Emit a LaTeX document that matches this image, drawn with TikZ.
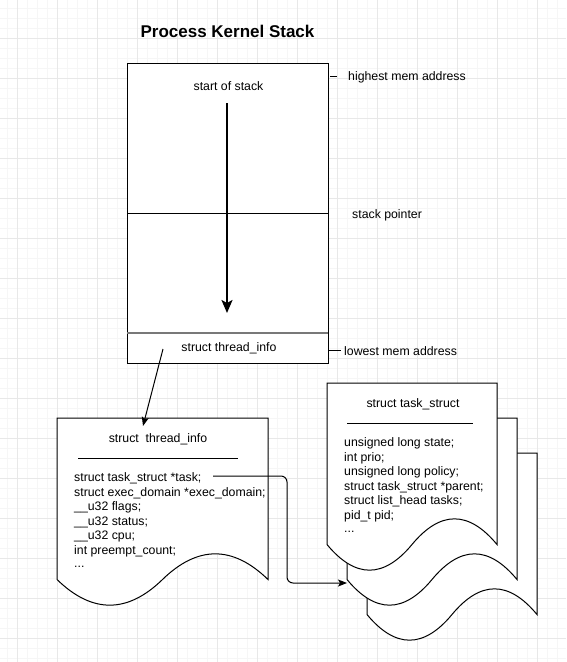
\documentclass[tikz,border=0pt]{standalone}
\usepackage{fontspec}
\setmainfont{Liberation Sans}
\usetikzlibrary{arrows.meta}
\tikzset{
  lbl/.style={inner sep=0pt, font=\fontsize{12.3}{14}\selectfont, yshift=-2pt},
  codeline/.style={lbl, anchor=mid west},
  doc/.style={draw=black, fill=white, line width=1pt},
  conn/.style={draw=black, line width=1pt, -{Stealth[length=9pt,width=7pt,inset=2pt]}},
  minorgrid/.style={draw={rgb,255:red,246;green,246;blue,246}, line width=0.8pt},
  majorgrid/.style={draw={rgb,255:red,232;green,232;blue,232}, line width=0.8pt},
}
\newcommand{\docshape}[5]{%
  \draw[doc] (#2,#3) -- ({#2+#4},#3) -- ({#2+#4},{#3+0.85*#5})
    .. controls ({#2+0.8333*#4},{#3+0.67*#5}) and ({#2+0.6667*#4},{#3+0.67*#5}) .. ({#2+0.5*#4},{#3+0.85*#5})
    .. controls ({#2+0.3333*#4},{#3+1.03*#5}) and ({#2+0.1667*#4},{#3+1.03*#5}) .. (#2,{#3+0.85*#5}) -- cycle;
  \coordinate (#1) at (#2,#3);
}
\begin{document}
\begin{tikzpicture}[x=1pt,y=-1pt]
\useasboundingbox (0,0) rectangle (566,662);
\fill[white] (0,0) rectangle (566,662);
% grid
\foreach \gx in {7,17,...,566} \draw[minorgrid] (\gx,0) -- (\gx,662);
\foreach \gy in {8,18,...,662} \draw[minorgrid] (0,\gy) -- (566,\gy);
\foreach \gx in {17,57,...,566} \draw[majorgrid] (\gx,0) -- (\gx,662);
\foreach \gy in {38,78,...,662} \draw[majorgrid] (0,\gy) -- (566,\gy);

% title
\node[inner sep=0pt, font=\fontsize{17}{20}\selectfont\bfseries] (title) at (227.5,31.5) {Process Kernel Stack};

% stack
\draw[line width=1pt, fill=white] (127,63) rectangle (328,363);
\coordinate (stacktop) at (127,63);
\draw[line width=1pt] (127,213) -- (328,213);
\draw[line width=2pt, draw={rgb,255:red,120;green,120;blue,120}] (127,333) -- (328,333);
\node[lbl, anchor=mid] (start) at (228.5,86) {start of stack};
\coordinate (arrA) at (227,103);
\coordinate (arrB) at (227,313);
\draw[line width=2pt, -{Stealth[length=13pt,width=11pt,inset=3pt]}] (arrA) -- (arrB);
\node[lbl, anchor=mid] (tiStack) at (229,347) {struct thread\_info};

% side labels
\coordinate (hiA) at (330,76);
\coordinate (hiB) at (337,76);
\draw[line width=1pt] (hiA) -- (hiB);
\node[lbl, anchor=mid west] (hi) at (348,76) {highest mem address};
\node[lbl, anchor=mid west] (sp) at (352,214) {stack pointer};
\coordinate (loA) at (328,350);
\coordinate (loB) at (341,350);
\draw[line width=1pt] (loA) -- (loB);
\node[lbl, anchor=mid west] (lo) at (344,351) {lowest mem address};

% thread_info document
\docshape{tidoc}{57}{418}{211}{190}
\node[lbl, anchor=mid] (tiTitle) at (158,437.5) {struct\ \ thread\_info};
\draw[line width=1pt] (78,458) -- (238,458);
\node[codeline] (ti1) at (74,477) {struct task\_struct *task;};
\node[codeline] (ti2) at (74,491.5) {struct exec\_domain *exec\_domain;};
\node[codeline] (ti3) at (74,506) {\_\_u32 flags;};
\node[codeline] (ti4) at (74,520.5) {\_\_u32 status;};
\node[codeline] (ti5) at (74,535) {\_\_u32 cpu;};
\node[codeline] (ti6) at (74,549.5) {int preempt\_count;};
\node[codeline] (ti7) at (74,563) {...};

% task_struct documents
\docshape{ts3}{367}{453}{170}{190}
\docshape{ts2}{347}{418}{170}{190}
\docshape{ts1}{327}{383}{170}{190}
\node[lbl, anchor=mid] (tsTitle) at (413,402.5) {struct task\_struct};
\draw[line width=1pt] (347,423) -- (473,423);
\node[codeline] (ts_a) at (344,442) {unsigned long state;};
\node[codeline] (ts_b) at (344,456.5) {int prio;};
\node[codeline] (ts_c) at (344,471) {unsigned long policy;};
\node[codeline] (ts_d) at (344,485.5) {struct task\_struct *parent;};
\node[codeline] (ts_e) at (344,500) {struct list\_head tasks;};
\node[codeline] (ts_f) at (344,514.5) {pid\_t pid;};
\node[codeline] (ts_g) at (344,528) {...};

% connectors
\coordinate (c1a) at (163,349);
\coordinate (c1b) at (143,426);
\draw[conn] (c1a) -- (c1b);
\coordinate (c2a) at (213,476);
\coordinate (c2b) at (347,583);
\draw[conn, rounded corners=6pt] (c2a) -- (287,476) -- (287,583) -- (c2b);
\end{tikzpicture}
\end{document}
